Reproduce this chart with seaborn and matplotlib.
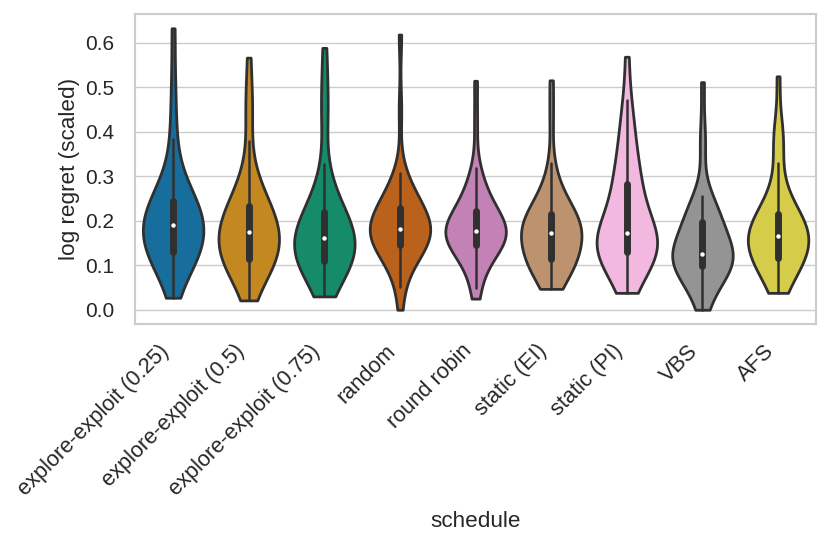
import matplotlib
matplotlib.use("Agg")
import matplotlib.pyplot as plt
import seaborn as sns
import pandas as pd

schedules = ["explore-exploit (0.25)", "explore-exploit (0.5)", "explore-exploit (0.75)",
             "random", "round robin", "static (EI)", "static (PI)", "VBS", "AFS"]

ee_025 = [0.027, 0.06, 0.08, 0.095, 0.105, 0.112, 0.118, 0.123, 0.127, 0.129,
          0.131, 0.14, 0.148, 0.155, 0.162, 0.168, 0.174, 0.179, 0.184, 0.189,
          0.193, 0.198, 0.203, 0.208, 0.213, 0.219, 0.225, 0.231, 0.237, 0.244,
          0.25, 0.26, 0.27, 0.285, 0.30, 0.33, 0.383, 0.44, 0.52, 0.633]
ee_05 = [0.021, 0.045, 0.065, 0.08, 0.09, 0.098, 0.104, 0.108, 0.111, 0.113,
         0.115, 0.123, 0.13, 0.137, 0.144, 0.15, 0.156, 0.162, 0.167, 0.172,
         0.176, 0.181, 0.186, 0.192, 0.198, 0.204, 0.21, 0.217, 0.224, 0.231,
         0.238, 0.248, 0.26, 0.275, 0.29, 0.31, 0.379, 0.45, 0.48, 0.567]
ee_075 = [0.030, 0.055, 0.07, 0.08, 0.088, 0.094, 0.099, 0.103, 0.106, 0.108,
          0.110, 0.117, 0.124, 0.131, 0.137, 0.143, 0.148, 0.153, 0.157, 0.160,
          0.164, 0.169, 0.174, 0.179, 0.185, 0.191, 0.197, 0.203, 0.209, 0.217,
          0.225, 0.235, 0.248, 0.265, 0.29, 0.328, 0.43, 0.455, 0.52, 0.589]
rand = [0.0, 0.051, 0.08, 0.10, 0.115, 0.125, 0.132, 0.137, 0.140, 0.142,
        0.146, 0.152, 0.157, 0.162, 0.166, 0.170, 0.173, 0.176, 0.178, 0.180,
        0.182, 0.186, 0.190, 0.195, 0.200, 0.205, 0.211, 0.217, 0.222, 0.227,
        0.232, 0.238, 0.245, 0.252, 0.262, 0.275, 0.29, 0.308, 0.45, 0.619]
round_robin = [0.025, 0.049, 0.075, 0.095, 0.11, 0.12, 0.128, 0.134, 0.139, 0.143,
               0.147, 0.152, 0.156, 0.160, 0.164, 0.167, 0.170, 0.172, 0.174, 0.176,
               0.178, 0.182, 0.186, 0.190, 0.195, 0.200, 0.205, 0.210, 0.215, 0.220,
               0.228, 0.236, 0.245, 0.255, 0.265, 0.28, 0.30, 0.319, 0.42, 0.515]
static_ei = [0.047, 0.058, 0.07, 0.08, 0.088, 0.095, 0.1, 0.105, 0.109, 0.112,
             0.115, 0.122, 0.13, 0.138, 0.145, 0.151, 0.157, 0.162, 0.166, 0.170,
             0.174, 0.178, 0.182, 0.186, 0.190, 0.195, 0.200, 0.204, 0.208, 0.213,
             0.221, 0.228, 0.236, 0.245, 0.255, 0.27, 0.29, 0.33, 0.43, 0.516]
static_pi = [0.038, 0.06, 0.075, 0.088, 0.098, 0.106, 0.113, 0.119, 0.124, 0.128,
             0.132, 0.137, 0.142, 0.147, 0.151, 0.155, 0.159, 0.163, 0.167, 0.170,
             0.174, 0.182, 0.192, 0.203, 0.215, 0.228, 0.242, 0.256, 0.268, 0.279,
             0.293, 0.305, 0.32, 0.34, 0.36, 0.385, 0.41, 0.44, 0.472, 0.569]
vbs = [0.0, 0.02, 0.038, 0.052, 0.064, 0.074, 0.082, 0.089, 0.094, 0.097,
       0.100, 0.104, 0.108, 0.111, 0.114, 0.117, 0.119, 0.121, 0.123, 0.125,
       0.127, 0.134, 0.142, 0.150, 0.158, 0.166, 0.174, 0.182, 0.189, 0.196,
       0.205, 0.212, 0.22, 0.228, 0.236, 0.245, 0.256, 0.36, 0.40, 0.512]
afs = [0.038, 0.05, 0.065, 0.078, 0.088, 0.096, 0.103, 0.108, 0.112, 0.115,
       0.118, 0.125, 0.132, 0.139, 0.145, 0.150, 0.155, 0.159, 0.162, 0.164,
       0.168, 0.172, 0.177, 0.182, 0.187, 0.192, 0.197, 0.202, 0.207, 0.213,
       0.222, 0.232, 0.245, 0.26, 0.28, 0.33, 0.375, 0.39, 0.41, 0.525]

series = [ee_025, ee_05, ee_075, rand, round_robin, static_ei, static_pi, vbs, afs]

rows = []
for name, vals in zip(schedules, series):
    for v in vals:
        rows.append((name, v))
df = pd.DataFrame(rows, columns=["schedule", "log regret (scaled)"])

sns.set_theme(style="whitegrid")
plt.rcParams["font.family"] = ["Liberation Sans", "DejaVu Sans"]

fig, ax = plt.subplots(figsize=(8.3, 5.47), dpi=100)
fig.subplots_adjust(left=0.163, right=0.983, top=0.974, bottom=0.408)

sns.violinplot(data=df, x="schedule", y="log regret (scaled)", hue="schedule",
               palette="colorblind", cut=0, legend=False, linewidth=2.0,
               order=schedules, hue_order=schedules, ax=ax,
               inner_kws=dict(box_width=5, whis_width=1.8, marker="o"))

for ln in ax.lines:
    if ln.get_marker() == "o":
        ln.set_markersize(3.2)
        ln.set_markeredgewidth(0)

ax.tick_params(axis="y", labelsize=15, pad=9)
ax.tick_params(axis="x", labelsize=15.7, pad=6)
ax.set_xlabel("schedule", fontsize=16.2, labelpad=8)
ax.set_ylabel("log regret (scaled)", fontsize=16.2)
ax.set_yticks([0.0, 0.1, 0.2, 0.3, 0.4, 0.5, 0.6])
plt.setp(ax.get_xticklabels(), rotation=45, ha="right")
for s in ax.spines.values():
    s.set_color("#cccccc")
    s.set_linewidth(1.5)

fig.savefig("out.png", dpi=100)
